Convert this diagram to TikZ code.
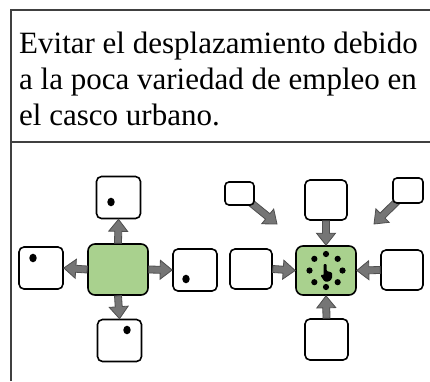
\documentclass[tikz,border=0pt]{standalone}
\usepackage{fontspec}
\setmainfont{Liberation Serif}
\usetikzlibrary{calc, positioning, backgrounds}

\definecolor{hubgreen}{HTML}{A9D18E}
\definecolor{arrowgray}{HTML}{757575}
\definecolor{arrowedge}{HTML}{4F4F4F}
\definecolor{framegray}{HTML}{404040}

% fat block arrow from #1 to #2 (tip at #2)
\newcommand{\fatarrow}[2]{%
  \coordinate (fa-base) at ($(#2)!12pt!(#1)$);
  \draw[fatarrow] ($(#1)!3.5pt!90:(#2)$) -- ($(fa-base)!3.5pt!90:(#2)$)
    -- ($(fa-base)!9.5pt!90:(#2)$) -- (#2)
    -- ($(fa-base)!9.5pt!-90:(#2)$) -- ($(fa-base)!3.5pt!-90:(#2)$)
    -- ($(#1)!3.5pt!-90:(#2)$) -- cycle;}

\begin{document}
\begin{tikzpicture}[x=1pt, y=-1pt,
  every node/.style={font=\fontsize{31}{36}\selectfont},
  frame/.style={draw=framegray, line width=1.2pt},
  cellbox/.style={draw, line width=1.6pt, rounded corners=5pt, fill=white,
    minimum width=44pt, minimum height=42pt, inner sep=0pt},
  hubbox/.style={cellbox, fill=hubgreen, rounded corners=7pt,
    minimum width=60pt, minimum height=51pt},
  fatarrow/.style={fill=arrowgray, draw=arrowedge, line width=0.8pt}]
  \useasboundingbox (0,0) rectangle (430,381);
  % Frame
  \draw[frame] (11,381) -- (11,10) -- (430,10);
  \draw[frame] (11,142) -- (430,142);
  % Heading
  \node[anchor=base west, inner sep=0pt] (line1) at (19,53) {Evitar el desplazamiento debido};
  \node[anchor=base west, inner sep=0pt] (line2) at (19,89) {a la poca variedad de empleo en};
  \node[anchor=base west, inner sep=0pt] (line3) at (19,125) {el casco urbano.};
  % Left: hub sending out
  \node[hubbox] (gL) at (118,269.5) {};
  \node[cellbox] (tL) at (118.5,197.5) {};
  \node[cellbox] (lL) at (41,268) {};
  \node[cellbox] (rL) at (195,270) {};
  \node[cellbox] (bL) at (119.5,340.5) {};
  \fill (111,202) ellipse (3.7pt and 4.3pt);
  \fill (33,258) ellipse (3.7pt and 4.3pt);
  \fill (186,279) ellipse (3.7pt and 4.3pt);
  \fill (127,330) ellipse (3.7pt and 4.3pt);
  \fatarrow{gL.north}{tL.south}
  \fatarrow{gL.west}{lL.east}
  \fatarrow{gL.east}{rL.west}
  \fatarrow{gL.south}{bL.north}
  % Right: hub drawing in
  \node[hubbox, minimum height=49pt] (gR) at (326,270.5) {};
  \node[cellbox, minimum width=42pt, minimum height=40pt] (tR) at (326,200) {};
  \node[cellbox, minimum width=42pt, minimum height=40pt] (lR) at (251,269) {};
  \node[cellbox, minimum width=42pt, minimum height=40pt] (rR) at (402,270) {};
  \node[cellbox, minimum width=43pt, minimum height=41pt] (bR) at (326.5,339.5) {};
  \node[cellbox, minimum width=29pt, minimum height=23pt, rounded corners=4pt] (tlR) at (239.5,193.5) {};
  \node[cellbox, minimum width=30pt, minimum height=25pt, rounded corners=4pt] (trR) at (408,190.5) {};
  \coordinate (tipTL) at (277,224);
  \coordinate (tipTR) at (374,224);
  \fatarrow{tR.south}{gR.north}
  \fatarrow{lR.east}{gR.west}
  \fatarrow{rR.west}{gR.east}
  \fatarrow{bR.north}{gR.south}
  \begin{scope}[on background layer]
    \fatarrow{tlR.center}{tipTL}
    \fatarrow{trR.center}{tipTR}
  \end{scope}
  % ring of dots + hand
  \foreach \a in {0,45,...,315}
    \fill ($(gR.center)+(\a:16.5)$) circle (3.1pt);
  \fill[rounded corners=1pt] (323.6,264) -- (326.6,264) -- (326.6,271)
    -- (332,272.5) -- (332,278.5) -- (329,281.5) -- (324.5,281.5)
    -- (320.5,275.5) -- (322.3,274.3) -- (323.6,275.5) -- cycle;
\end{tikzpicture}
\end{document}
